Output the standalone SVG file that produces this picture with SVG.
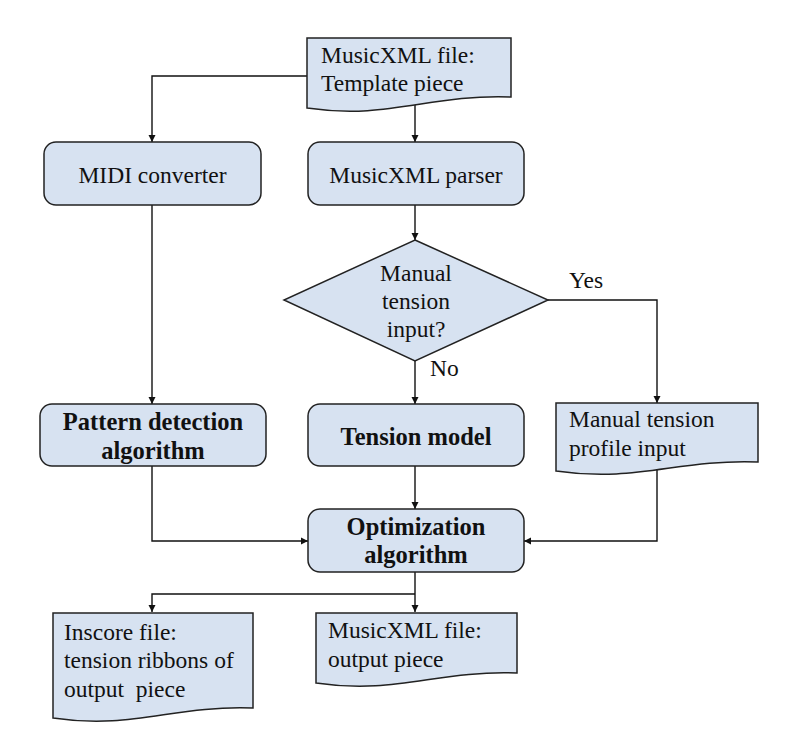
<svg xmlns="http://www.w3.org/2000/svg" width="785" height="745" viewBox="0 0 785 745">
<defs>
<style>
.shape{fill:#d7e2f1;stroke:#222;stroke-width:1.5}
.t{font-family:"Liberation Serif","DejaVu Serif",serif;font-size:23.5px;fill:#111}
.c{text-anchor:middle}
.b{font-weight:bold;font-size:24.5px}
.line{fill:none;stroke:#111;stroke-width:1.4}
</style>
<marker id="ah" viewBox="0 0 10 10" refX="10" refY="5" markerWidth="7" markerHeight="8" markerUnits="userSpaceOnUse" orient="auto">
<path d="M0,0 L10,5 L0,10 Z" fill="#111"/>
</marker>
</defs>
<rect width="785" height="745" fill="#fff"/>
<g id="connectors">
<path class="line" d="M307,76 H152 V142" marker-end="url(#ah)"/>
<path class="line" d="M415,103 V142" marker-end="url(#ah)"/>
<path class="line" d="M415,205 V240" marker-end="url(#ah)"/>
<path class="line" d="M548,300 H657 V403" marker-end="url(#ah)"/>
<path class="line" d="M415,361 V404" marker-end="url(#ah)"/>
<path class="line" d="M152,205 V404" marker-end="url(#ah)"/>
<path class="line" d="M152,466 V541 H308" marker-end="url(#ah)"/>
<path class="line" d="M415,466 V509" marker-end="url(#ah)"/>
<path class="line" d="M657,464 V541 H524" marker-end="url(#ah)"/>
<path class="line" d="M415,572 V612" marker-end="url(#ah)"/>
<path class="line" d="M415,594 H152 V612" marker-end="url(#ah)"/>
<text class="t" x="569" y="288">Yes</text>
<text class="t" x="430" y="376">No</text>
</g>
<g id="template">
<path class="shape" d="M307,38 H511 V97 C429,94 389,120 307,108 Z"/>
<text class="t" x="321" y="63">MusicXML file:</text>
<text class="t" x="321" y="91">Template piece</text>
</g>
<g id="midi">
<rect class="shape" x="44" y="142" width="217" height="63" rx="12"/>
<text class="t c" x="152.5" y="183">MIDI converter</text>
</g>
<g id="parser">
<rect class="shape" x="308" y="142" width="216" height="63" rx="12"/>
<text class="t c" x="416" y="183">MusicXML parser</text>
</g>
<g id="decision">
<path class="shape" d="M415,240 L548,300 L415,361 L284,300 Z"/>
<text class="t c" x="416" y="281">Manual</text>
<text class="t c" x="416" y="309">tension</text>
<text class="t c" x="416" y="337">input?</text>
</g>
<g id="pattern">
<rect class="shape" x="40" y="404" width="226" height="62" rx="12"/>
<text class="t c b" x="153" y="430">Pattern detection</text>
<text class="t c b" x="153" y="459">algorithm</text>
</g>
<g id="tension">
<rect class="shape" x="308" y="404" width="216" height="62" rx="12"/>
<text class="t c b" x="416" y="445">Tension model</text>
</g>
<g id="manual">
<path class="shape" d="M556,403 H758 V462 C677,459 637,483 556,471 Z"/>
<text class="t" x="569" y="427">Manual tension</text>
<text class="t" x="569" y="456">profile input</text>
</g>
<g id="optimization">
<rect class="shape" x="308" y="509" width="216" height="63" rx="12"/>
<text class="t c b" x="416" y="535">Optimization</text>
<text class="t c b" x="416" y="563">algorithm</text>
</g>
<g id="inscore">
<path class="shape" d="M53,613 H253 V708 C173,705 133,730 53,718 Z"/>
<text class="t" x="64" y="640">Inscore file:</text>
<text class="t" x="64" y="668">tension ribbons of</text>
<text class="t" x="64" y="697" xml:space="preserve">output  piece</text>
</g>
<g id="output">
<path class="shape" d="M316,613 H517 V673 C437,670 396,695 316,683 Z"/>
<text class="t" x="328" y="638">MusicXML file:</text>
<text class="t" x="328" y="667">output piece</text>
</g>
</svg>
